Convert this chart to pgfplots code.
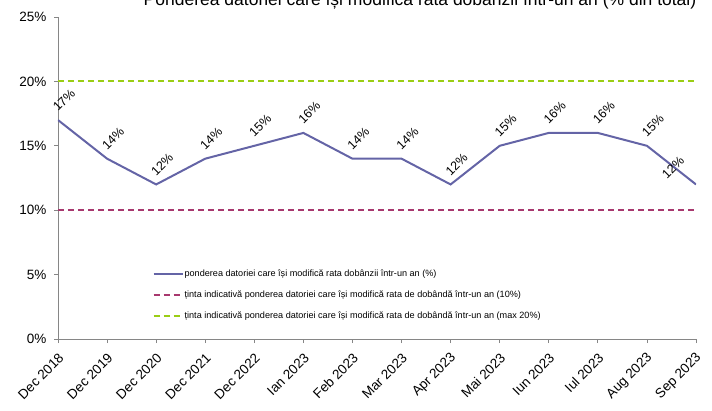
\documentclass[border=0pt]{standalone}
\usepackage{fontspec}
\setmainfont{Liberation Sans}
\usepackage{pgfplots}
\pgfplotsset{compat=1.18}
\definecolor{serie}{RGB}{100,100,166}
\definecolor{tinta}{RGB}{168,56,110}
\definecolor{maxim}{RGB}{154,205,20}
\definecolor{axa}{RGB}{134,134,134}

\begin{document}
\begin{tikzpicture}
\begin{axis}[
    at={(58pt,71pt)}, anchor=south west,
    scale only axis, width=638pt, height=322pt,
    xmin=0, xmax=13, ymin=0, ymax=25,
    axis x line*=bottom, axis y line*=left,
    axis line style={axa, line width=0.8pt},
    tick style={axa, line width=0.8pt},
    tick align=outside, major tick length=4pt,
    xtick={0,...,13},
    xticklabels={Dec 2018, Dec 2019, Dec 2020, Dec 2021, Dec 2022, Ian 2023, Feb 2023, Mar 2023, Apr 2023, Mai 2023, Iun 2023, Iul 2023, Aug 2023, Sep 2023},
    xticklabel style={xshift=4pt, yshift=-12pt, rotate=45, anchor=east, inner sep=1pt,
        font=\fontsize{13.5}{13.5}\selectfont},
    ytick={0,5,...,25},
    yticklabel={\pgfmathprintnumber{\tick}\%},
    yticklabel style={font=\fontsize{13.5}{13.5}\selectfont, xshift=-4pt},
    /pgf/number format/assume math mode=true,
    legend style={at={(rel axis cs:0.148,0.218)}, anchor=north west, draw=none, fill=none,
        font=\fontsize{9.1}{9.1}\selectfont, row sep=10.5pt, inner sep=0pt,
        nodes={inner sep=1pt}},
    legend cell align=left,
    legend image code/.code={\draw[#1] (0pt,0pt) -- (29pt,0pt);},
]
\addplot[serie, line width=2pt] coordinates {
    (0,17) (1,14) (2,12) (3,14) (4,15) (5,16) (6,14) (7,14)
    (8,12) (9,15) (10,16) (11,16) (12,15) (13,12)};
\addlegendentry{ponderea datoriei care își modifică rata dobânzii într-un an (\%)}
\addplot[tinta, line width=2pt, dash pattern=on 6pt off 4pt] coordinates {(0,10) (13,10)};
\addlegendentry{ținta indicativă ponderea datoriei care își modifică rata de dobândă într-un an (10\%)}
\addplot[maxim, line width=2pt, dash pattern=on 6pt off 4pt] coordinates {(0,20) (13,20)};
\addlegendentry{ținta indicativă ponderea datoriei care își modifică rata de dobândă într-un an (max 20\%)}
% etichete de date
\addplot[draw=none, mark=none, forget plot,
    nodes near coords={\pgfmathprintnumber{\pgfplotspointmeta}\%},
    every node near coord/.style={shift={(6pt,20pt)}, rotate=45, anchor=center,
        inner sep=0pt, text=black, font=\fontsize{12.5}{12.5}\selectfont}]
    coordinates {
    (0,17) (1,14) (2,12) (3,14) (4,15) (5,16) (6,14) (7,14)
    (8,12) (9,15) (10,16) (11,16) (12,15)};
\addplot[draw=none, mark=none, forget plot,
    nodes near coords={\pgfmathprintnumber{\pgfplotspointmeta}\%},
    every node near coord/.style={shift={(-23pt,17pt)}, rotate=45, anchor=center,
        inner sep=0pt, text=black, font=\fontsize{12.5}{12.5}\selectfont}]
    coordinates {(13,12)};
\end{axis}
\node[anchor=base, font=\fontsize{17.5}{17.5}\selectfont] at (420pt,404pt)
    {Ponderea datoriei care își modifică rata dobânzii într-un an (\% din total)};
\pgfresetboundingbox
\path (0,0) rectangle (712pt,410pt);
\end{tikzpicture}
\end{document}
